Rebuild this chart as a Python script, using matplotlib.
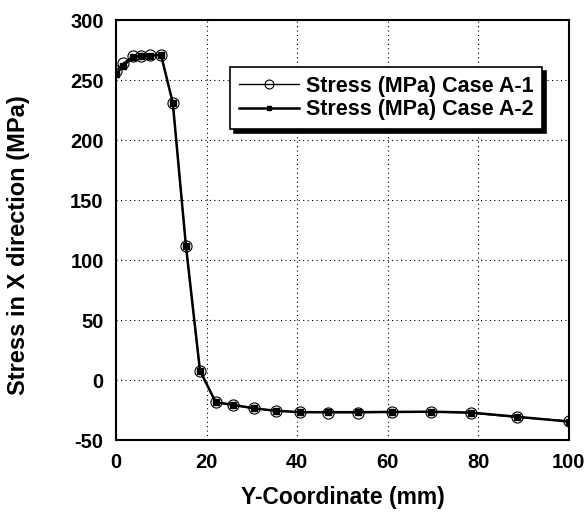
import matplotlib.pyplot as plt

# stress along the Y coordinate for both cases
y_a1 = [0, 1.5, 3.7, 5.4, 7.5, 9.9, 12.5, 15.4, 18.5, 22, 25.8, 30.4, 35.2, 40.7, 46.8, 53.5, 61, 69.5, 78.3, 88.5, 100]
s_a1 = [258, 264, 270, 270.5, 271, 271, 231, 112, 7.5, -18.5, -21, -23.5, -25.5, -26.7, -27, -27, -26.7, -26.5, -27.3, -31, -34]
y_a2 = [0, 1.5, 3.7, 5.4, 7.5, 9.9, 12.5, 15.4, 18.5, 22, 25.8, 30.4, 35.2, 40.7, 46.8, 53.5, 61, 69.5, 78.3, 88.5, 100]
s_a2 = [255, 262, 269, 270, 270.5, 271, 231, 112, 8, -18.5, -20.5, -23.5, -25.5, -26.7, -26.7, -26.7, -26.5, -26.3, -27, -30.5, -34.5]

plt.rcParams['font.family'] = ['Liberation Sans', 'DejaVu Sans']
plt.rcParams['font.weight'] = 'bold'
plt.rcParams['axes.unicode_minus'] = False

fig = plt.figure(figsize=(5.87, 5.16), dpi=100)
ax = fig.add_axes([0.198, 0.147, 0.771, 0.814])

ax.plot(y_a1, s_a1, color='black', lw=1.0, marker='o', ms=8, mfc='none', mec='black', mew=0.8,
        label='Stress (MPa) Case A-1')
ax.plot(y_a2, s_a2, color='black', lw=1.8, marker='s', ms=4, mfc='black', mec='black',
        label='Stress (MPa) Case A-2')

ax.set_xlim(0, 100)
ax.set_ylim(-50, 300)
ax.set_xticks(range(0, 101, 20))
ax.set_yticks(range(-50, 301, 50))
ax.tick_params(length=0, labelsize=14.5, pad=9)
for lab in ax.get_xticklabels() + ax.get_yticklabels():
    lab.set_fontweight('bold')

ax.grid(True, color='black', ls=(0, (1, 3)), lw=0.8)
for sp in ax.spines.values():
    sp.set_linewidth(1.5)

ax.set_xlabel('Y-Coordinate (mm)', fontsize=16.5, fontweight='bold', labelpad=10)
ax.set_ylabel('Stress in X direction (MPa)', fontsize=17, fontweight='bold')
ax.yaxis.set_label_coords(-0.19, 0.464)

leg = ax.legend(loc='upper left', bbox_to_anchor=(0.252, 0.888), fontsize=15.5, frameon=True,
                fancybox=False, shadow={'color': 'black', 'alpha': 1, 'ox': 3, 'oy': -3},
                edgecolor='black', framealpha=1, handlelength=2.8, handletextpad=0.3,
                borderpad=0.4, labelspacing=0.12, markerscale=0.8, borderaxespad=0)
leg.get_frame().set_linewidth(1.2)
for t in leg.get_texts():
    t.set_fontweight('bold')

fig.savefig('out.png', dpi=100)
